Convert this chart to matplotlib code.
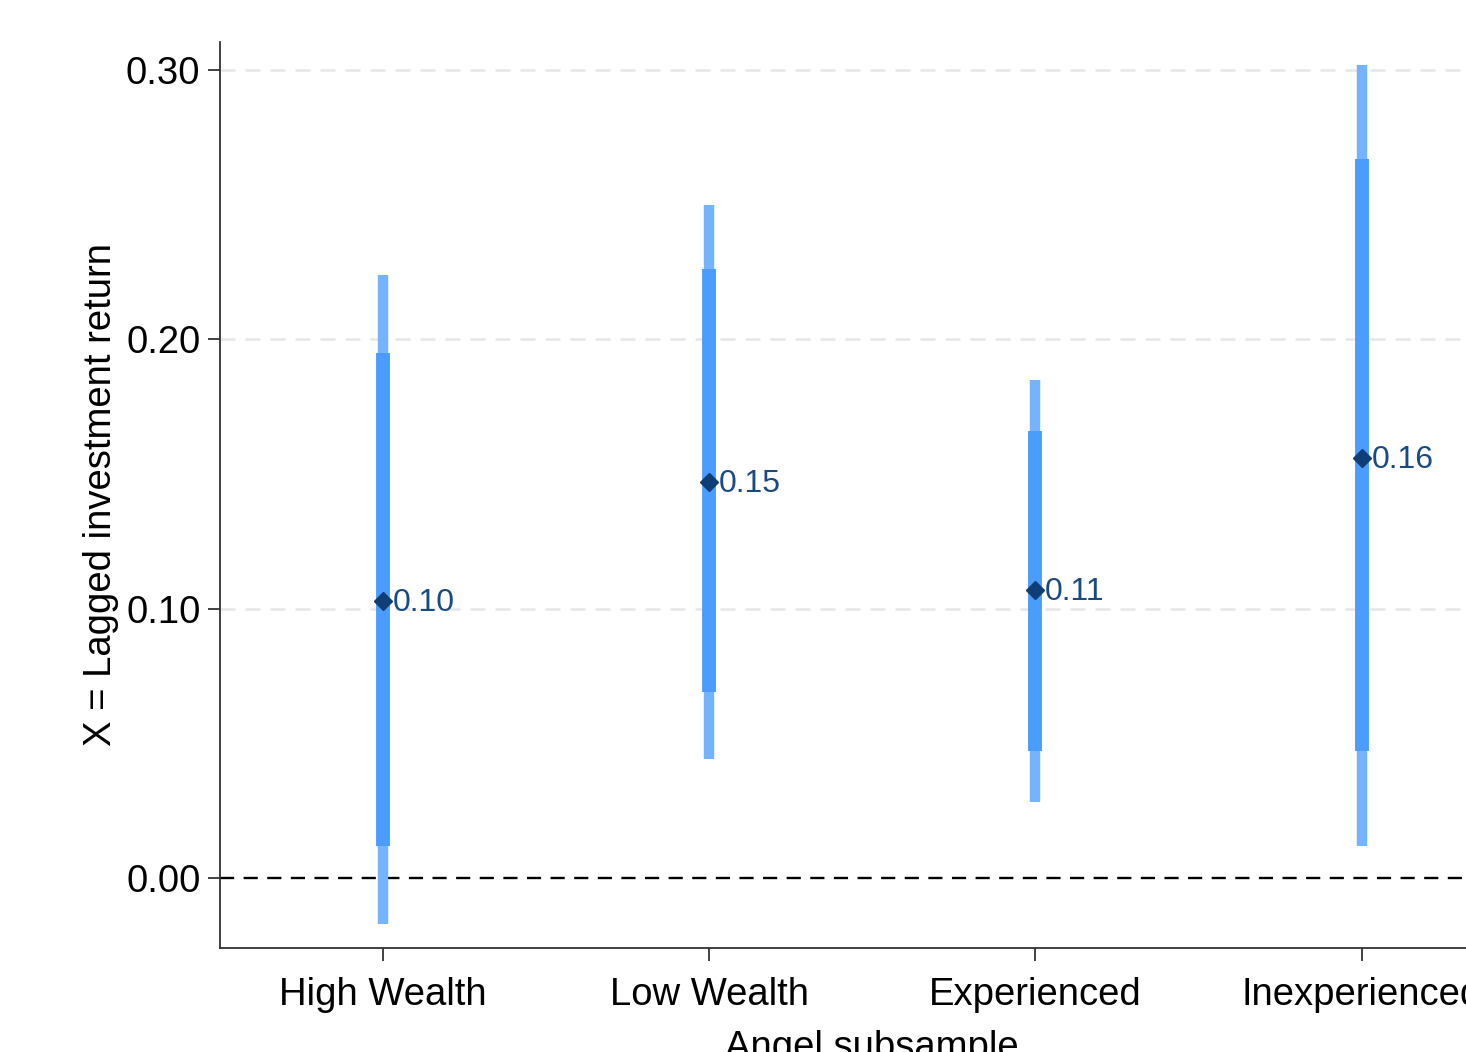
import matplotlib.pyplot as plt
import numpy as np

# Coefficients and confidence intervals per subsample
groups = ['High Wealth', 'Low Wealth', 'Experienced', 'Inexperienced']
coef = [0.103, 0.147, 0.107, 0.156]
ci95_low = [-0.017, 0.044, 0.028, 0.012]
ci95_high = [0.224, 0.250, 0.185, 0.302]
ci90_low = [0.012, 0.069, 0.047, 0.047]
ci90_high = [0.195, 0.226, 0.166, 0.267]
coef_labels = ['0.10', '0.15', '0.11', '0.16']
yticks = [0.0, 0.1, 0.2, 0.3]

plt.rcParams['font.family'] = ['Liberation Sans', 'DejaVu Sans']

fig = plt.figure(figsize=(14.66, 10.52), dpi=100)
ax = fig.add_axes([0.150, 0.099, 0.890, 0.861])

x = np.arange(1, len(groups) + 1)

# gridlines
for yv in yticks[1:]:
    ax.axhline(yv, color='#e6e6e6', lw=1.8, ls=(0, (6, 4)), zorder=0)
ax.axhline(0, color='black', lw=1.7, ls=(0, (6, 4)), zorder=1)

ax.vlines(x, ci95_low, ci95_high, color='#74b3ff', lw=7.5, zorder=2)
ax.vlines(x, ci90_low, ci90_high, color='#4a9dff', lw=10, zorder=3)
ax.plot(x, coef, ls='none', marker='D', ms=9.5, color='#0f3d75', zorder=4)

for xi, yi, lab in zip(x, coef, coef_labels):
    ax.annotate(lab, (xi, yi), xytext=(7, -1.5), textcoords='offset points',
                va='center', ha='left', fontsize=23, color='#1a4a82')

ax.set_xlim(0.5, 4.5)
ax.set_ylim(-0.026, 0.3104)
ax.set_xticks(x)
ax.set_xticklabels(groups, fontsize=27.5)
ax.set_yticks(yticks)
ax.set_yticklabels([f'{v:.2f}' for v in yticks], fontsize=27.5)
ax.set_xlabel('Angel subsample', fontsize=27.5, labelpad=12)
ax.set_ylabel('X = Lagged investment return', fontsize=27.5, labelpad=5)

ax.spines['top'].set_visible(False)
ax.spines['right'].set_visible(False)
for s in ['left', 'bottom']:
    ax.spines[s].set_color('#333333')
    ax.spines[s].set_linewidth(1.3)
ax.tick_params(axis='both', length=9, width=1.3, color='#333333', pad=5)
ax.tick_params(axis='x', pad=12)

fig.savefig('out.png', dpi=100)
